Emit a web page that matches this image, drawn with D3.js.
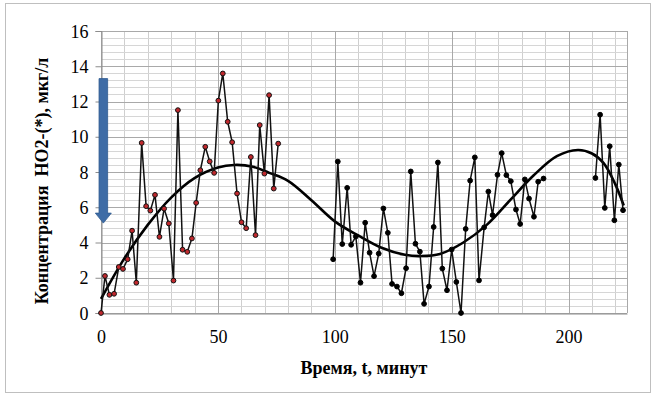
<!DOCTYPE html>
<html>
<head>
<meta charset="utf-8">
<script src="https://cdn.jsdelivr.net/npm/d3@7"></script>
<style>
  body { margin: 0; background: #fff; }
  svg { display: block; }
</style>
</head>
<body>
<div id="chart"></div>
<script>
// first run (red markers), minutes / concentration
const time1 = [0, 1.7, 3.6, 5.6, 7.6, 9.4, 11.4, 13.3, 15.1, 17.4, 19.3, 21.1, 23.1, 25, 27, 29, 31, 32.9, 34.9, 36.9,
  38.9, 40.7, 42.5, 44.6, 46.5, 48.4, 50.2, 52.1, 54.2, 56.1, 58.2, 60.1, 62.1, 64.1, 66.1, 67.9, 69.9, 71.9, 73.9, 75.8];
const conc1 = [0, 2.1, 1.03, 1.09, 2.61, 2.5, 3.05, 4.67, 1.72, 9.65, 6.06, 5.81, 6.7, 4.32, 5.92, 5.08, 1.84, 11.51, 3.59, 3.47,
  4.23, 6.25, 8.1, 9.43, 8.6, 7.95, 12.05, 13.59, 10.85, 9.69, 6.78, 5.15, 4.81, 8.85, 4.42, 10.66, 7.91, 12.36, 7.06, 9.61];

// second run (black markers), null = no measurements
const time2 = [99.3, 101.3, 103.2, 105.3, 107, 109, 111, 113, 114.9, 116.8, 118.8, 120.8, 122.7, 124.5, 126.6, 128.5, 130.5,
  132.5, 134.5, 136.4, 138.2, 140.3, 142.3, 144.1, 146, 148, 150, 152, 154, 156, 157.9, 159.9, 161.7, 163.9, 165.7, 167.5,
  169.6, 171.4, 173.4, 175.3, 177.5, 179.3, 181.3, 183.1, 185.2, 187, 189.3, 200,
  211.5, 213.5, 215.5, 217.6, 219.6, 221.5, 223.3];
const conc2 = [3.05, 8.59, 3.91, 7.1, 3.87, 4.34, 1.72, 5.12, 3.42, 2.09, 3.37, 5.93, 4.55, 1.65, 1.5, 1.12, 2.54,
  8.03, 3.93, 3.48, 0.52, 1.5, 4.88, 8.54, 2.52, 1.29, 3.6, 1.76, 0, 4.77, 7.51, 8.83, 1.85, 4.86, 6.89, 5.55,
  7.84, 9.07, 7.82, 7.48, 5.87, 5.05, 7.58, 6.49, 5.46, 7.45, 7.63, null,
  7.66, 11.25, 5.96, 9.46, 5.26, 8.42, 5.83];

// polynomial trend
const trendTime = [0, 10, 20, 30, 40, 50, 57, 65, 72, 80, 90, 100, 110, 120, 130, 137, 145, 155, 165, 175, 185, 195, 204, 210, 215, 220, 223.6];
const trendConc = [0.8, 3.1, 5.0, 6.55, 7.65, 8.25, 8.4, 8.3, 7.95, 7.5, 6.4, 5.2, 4.4, 3.7, 3.3, 3.23, 3.35, 4.0, 5.0, 6.4, 7.8, 8.9, 9.25, 9.05, 8.5, 7.3, 6.1];

const xTicks = [0, 50, 100, 150, 200];
const yTicks = [0, 2, 4, 6, 8, 10, 12, 14, 16];

const FONT = '"Liberation Serif", "DejaVu Serif", "Times New Roman", serif';
const W = 657, H = 399;
const margin = { top: 31, right: 30, bottom: 86, left: 101 };
const width = W - margin.left - margin.right;
const height = H - margin.top - margin.bottom;

const svg = d3.select('#chart').append('svg').attr('width', W).attr('height', H);

// outer chart frame
svg.append('rect')
  .attr('x', 5.5).attr('y', 3.5).attr('width', 645).attr('height', 389)
  .attr('fill', '#fff').attr('stroke', '#bfbfbf');

const g = svg.append('g').attr('transform', 'translate(' + margin.left + ',' + margin.top + ')');

const x = d3.scaleLinear().domain([0, 225]).range([0, width]);
const y = d3.scaleLinear().domain([0, 16]).range([height, 0]);

// minor grid (10 min / 0.4)
g.append('g').selectAll('line').data(d3.range(10, 225, 10)).enter().append('line')
  .attr('x1', d => Math.round(x(d)) + 0.5).attr('x2', d => Math.round(x(d)) + 0.5)
  .attr('y1', 0).attr('y2', height).attr('stroke', '#cfcfcf');
g.append('g').selectAll('line').data(d3.range(1, 40).map(i => i * 0.4)).enter().append('line')
  .attr('x1', 0).attr('x2', width)
  .attr('y1', d => Math.round(y(d)) + 0.5).attr('y2', d => Math.round(y(d)) + 0.5)
  .attr('stroke', '#d6d6d6');

// major grid
g.append('g').selectAll('line').data(xTicks.concat([225])).enter().append('line')
  .attr('x1', d => Math.round(x(d)) + 0.5).attr('x2', d => Math.round(x(d)) + 0.5)
  .attr('y1', 0).attr('y2', height).attr('stroke', '#a9a9a9');
g.append('g').selectAll('line').data(yTicks).enter().append('line')
  .attr('x1', 0).attr('x2', width)
  .attr('y1', d => Math.round(y(d)) + 0.5).attr('y2', d => Math.round(y(d)) + 0.5)
  .attr('stroke', '#a9a9a9');

// axes
const yAxis = g.append('g').attr('transform', 'translate(0.5,0)')
  .call(d3.axisLeft(y).tickValues(yTicks).tickSize(6).tickPadding(7));
const xAxis = g.append('g').attr('transform', 'translate(0,' + (height + 0.5) + ')')
  .call(d3.axisBottom(x).tickValues(xTicks).tickSize(0).tickPadding(17));
[yAxis, xAxis].forEach(a => {
  a.attr('font-family', null);
  a.select('.domain').attr('stroke', '#8c8c8c');
  a.selectAll('.tick line').attr('stroke', '#8c8c8c');
  a.selectAll('.tick text').style('font-family', FONT).style('font-size', '18px').attr('fill', '#000');
});
yAxis.selectAll('.tick text').attr('dy', '0.34em');

// trend curve
const trendPts = trendTime.map((t, i) => ({ t: t, v: trendConc[i] }));
g.append('path').datum(trendPts)
  .attr('fill', 'none').attr('stroke', '#000').attr('stroke-width', 2.6)
  .attr('d', d3.line().x(d => x(d.t)).y(d => y(d.v)).curve(d3.curveCatmullRom));

// measurement lines
const pts1 = time1.map((t, i) => ({ t: t, v: conc1[i] }));
const pts2 = time2.map((t, i) => ({ t: t, v: conc2[i] }));
const line = d3.line().defined(d => d.v != null).x(d => x(d.t)).y(d => y(d.v));

g.append('path').datum(pts1).attr('fill', 'none').attr('stroke', '#111').attr('stroke-width', 1.5).attr('d', line);
g.append('path').datum(pts2).attr('fill', 'none').attr('stroke', '#111').attr('stroke-width', 1.5).attr('d', line);

g.append('g').selectAll('circle').data(pts1).enter().append('circle')
  .attr('cx', d => x(d.t)).attr('cy', d => y(d.v)).attr('r', 2.4)
  .attr('fill', '#c0282d').attr('stroke', '#111').attr('stroke-width', 1);
g.append('g').selectAll('circle').data(pts2.filter(d => d.v != null)).enter().append('circle')
  .attr('cx', d => x(d.t)).attr('cy', d => y(d.v)).attr('r', 2.4)
  .attr('fill', '#000').attr('stroke', '#000').attr('stroke-width', 1);

// blue arrow pointing down
const ax = x(1), aTop = y(13.3), aTip = y(5.1);
g.append('path')
  .attr('d', 'M' + (ax - 4.3) + ',' + aTop + 'H' + (ax + 4.3) + 'V' + (aTip - 10) + 'H' + (ax + 8) +
    'L' + ax + ',' + aTip + 'L' + (ax - 8) + ',' + (aTip - 10) + 'H' + (ax - 4.3) + 'Z')
  .attr('fill', '#3e6ca6').attr('stroke', '#2f5a90').attr('stroke-width', 0.8);

// axis titles
svg.append('text')
  .attr('x', margin.left + width / 2).attr('y', 374)
  .attr('text-anchor', 'middle')
  .style('font-family', FONT).style('font-size', '18px').style('font-weight', 'bold')
  .text('Время, t, минут');
svg.append('text')
  .attr('transform', 'translate(48,' + (margin.top + 150) + ') rotate(-90)')
  .attr('text-anchor', 'middle')
  .style('font-family', FONT).style('font-size', '18px').style('font-weight', 'bold')
  .style('white-space', 'pre')
  .text('Концентрация  НО2-(*), мкг/л');
</script>
</body>
</html>
